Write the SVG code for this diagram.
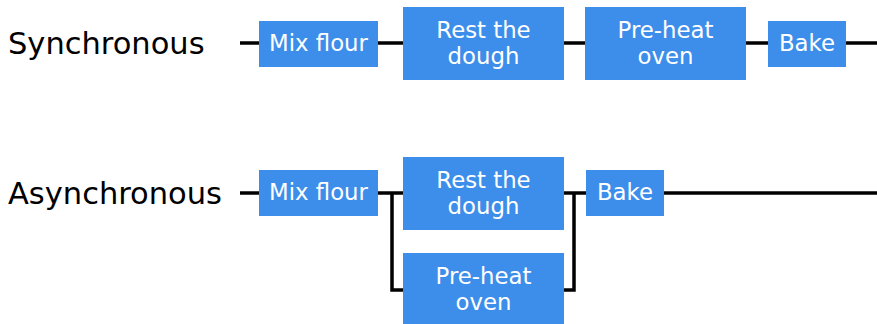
<svg xmlns="http://www.w3.org/2000/svg" width="877" height="324" viewBox="0 0 877 324">
  <style>
    .row { font-family: "DejaVu Sans", sans-serif; font-size: 30.5px; fill: #000; }
    .box { fill: #3d8eeb; }
    .lbl { font-family: "DejaVu Sans", sans-serif; font-size: 22.8px; fill: #fff; text-anchor: middle; }
    .wire { stroke: #000; stroke-width: 3.5; fill: none; stroke-linejoin: miter; }
  </style>
  <rect width="877" height="324" fill="#fff"/>

  <!-- row titles -->
  <text class="row" x="8" y="54">Synchronous</text>
  <text class="row" x="8" y="204">Asynchronous</text>

  <!-- connectors -->
  <g id="connectors">
    <line class="wire" x1="240" y1="43" x2="877" y2="43"/>
    <line class="wire" x1="240" y1="193" x2="403" y2="193"/>
    <line class="wire" x1="564" y1="193" x2="877" y2="193"/>
    <polyline class="wire" points="392,193 392,290 403,290"/>
    <polyline class="wire" points="574,193 574,290 564,290"/>
  </g>

  <!-- synchronous row -->
  <g id="sync-mix">
    <rect class="box" x="259" y="21" width="119" height="46"/>
    <text class="lbl" x="318.5" y="51">Mix flour</text>
  </g>
  <g id="sync-rest">
    <rect class="box" x="403" y="7" width="161" height="73"/>
    <text class="lbl" x="483.5" y="38">Rest the</text>
    <text class="lbl" x="483.5" y="64">dough</text>
  </g>
  <g id="sync-preheat">
    <rect class="box" x="585" y="7" width="161" height="73"/>
    <text class="lbl" x="665.5" y="38">Pre-heat</text>
    <text class="lbl" x="665.5" y="64">oven</text>
  </g>
  <g id="sync-bake">
    <rect class="box" x="768" y="21" width="78" height="46"/>
    <text class="lbl" x="807" y="51">Bake</text>
  </g>

  <!-- asynchronous row -->
  <g id="async-mix">
    <rect class="box" x="259" y="170" width="119" height="46"/>
    <text class="lbl" x="318.5" y="200">Mix flour</text>
  </g>
  <g id="async-rest">
    <rect class="box" x="403" y="157" width="161" height="73"/>
    <text class="lbl" x="483.5" y="188">Rest the</text>
    <text class="lbl" x="483.5" y="214">dough</text>
  </g>
  <g id="async-preheat">
    <rect class="box" x="403" y="253" width="161" height="73"/>
    <text class="lbl" x="483.5" y="284">Pre-heat</text>
    <text class="lbl" x="483.5" y="310">oven</text>
  </g>
  <g id="async-bake">
    <rect class="box" x="586" y="170" width="78" height="46"/>
    <text class="lbl" x="625" y="200">Bake</text>
  </g>
</svg>
